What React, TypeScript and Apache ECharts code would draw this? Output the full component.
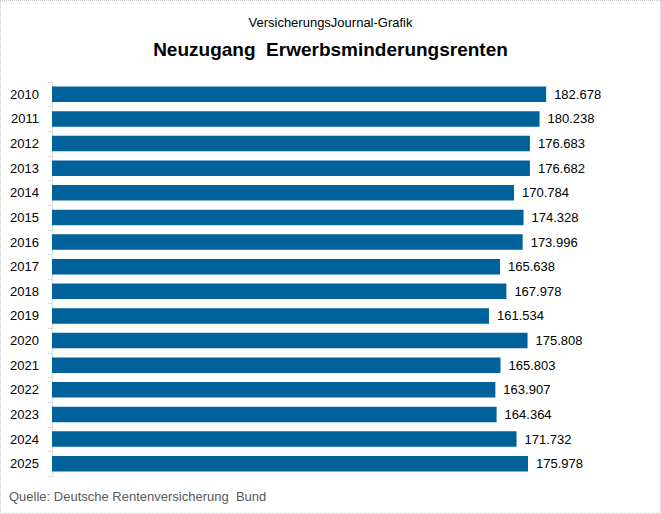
import { useEffect, useRef } from 'react'
import * as echarts from 'echarts'

const years = ['2010', '2011', '2012', '2013', '2014', '2015', '2016', '2017', '2018', '2019', '2020', '2021', '2022', '2023', '2024', '2025']
const zugaenge = [182678, 180238, 176683, 176682, 170784, 174328, 173996, 165638, 167978, 161534, 175808, 165803, 163907, 164364, 171732, 175978]

const narrow = "'Liberation Sans Narrow', 'Arial Narrow', 'Liberation Sans', Arial, sans-serif"

const fmt = (v: number) => String(v).replace(/\B(?=(\d{3})+(?!\d))/g, '.')

export default function App() {
  const chartRef = useRef<HTMLDivElement>(null)

  useEffect(() => {
    document.body.style.margin = '0'
    if (!chartRef.current) return
    const chart = echarts.init(chartRef.current, null, { renderer: 'svg' })

    chart.setOption({
      animation: false,
      backgroundColor: '#ffffff',
      title: [
        {
          text: 'VersicherungsJournal-Grafik',
          left: 'center',
          top: 10,
          textStyle: { fontFamily: narrow, fontSize: 13, fontWeight: 'normal', color: '#000000' },
        },
        {
          text: 'Neuzugang  Erwerbsminderungsrenten',
          left: 'center',
          top: 34,
          textStyle: { fontFamily: 'Liberation Sans, Arial, sans-serif', fontSize: 19, fontWeight: 'bold', color: '#000000' },
        },
        {
          text: 'Quelle: Deutsche Rentenversicherung  Bund',
          left: 3,
          top: 484,
          textStyle: { fontFamily: narrow, fontSize: 13, fontWeight: 'normal', color: '#595959' },
        },
      ],
      grid: { left: 51, right: 67, top: 81, bottom: 37 },
      xAxis: {
        type: 'value',
        min: 0,
        max: 200000,
        show: false,
      },
      yAxis: {
        type: 'category',
        data: years,
        inverse: true,
        axisLine: { show: true, lineStyle: { color: '#d9d9d9', width: 1 } },
        axisTick: { show: true, length: 4, inside: false, lineStyle: { color: '#d9d9d9' } },
        axisLabel: { fontFamily: narrow, fontSize: 13, color: '#000000', margin: 13 },
        splitLine: { show: false },
      },
      series: [
        {
          type: 'bar',
          data: zugaenge,
          barCategoryGap: '37%',
          itemStyle: { color: '#00629B' },
          label: {
            show: true,
            position: 'right',
            distance: 8,
            fontFamily: narrow,
            fontSize: 13,
            color: '#000000',
            formatter: (p: any) => fmt(p.value),
          },
        },
      ],
    })

    return () => {
      chart.dispose()
    }
  }, [])

  return (
    <div style={{ width: 661, height: 514, boxSizing: 'border-box', border: '1px dotted #c8c8c8' }}>
      <div ref={chartRef} style={{ width: 659, height: 512 }} />
    </div>
  )
}
